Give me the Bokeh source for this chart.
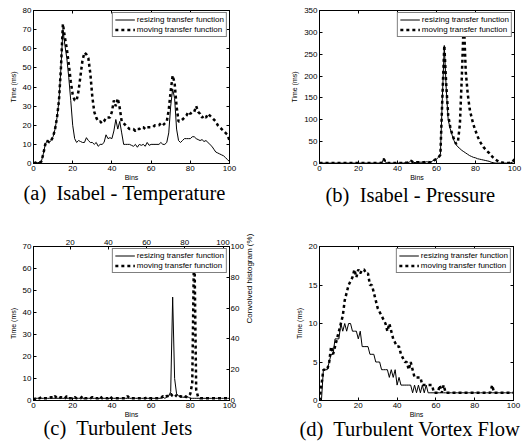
import math
from bokeh.plotting import figure
from bokeh.models import Range1d, LinearAxis, FixedTicker, Legend, LegendItem, Title
from bokeh.layouts import row, column
from bokeh.embed import file_html
from bokeh.resources import INLINE

# ---------------- data ----------------
bins = list(range(101))
x_ticks = [0, 20, 40, 60, 80, 100]

a_yticks = [0, 10, 20, 30, 40, 50, 60, 70, 80]
a_resize = [
    0, 0.5, 0.5, 0.5, 1, 5, 10, 12, 11, 12,
    14, 18, 24, 33, 50, 70, 62, 55, 45, 33,
    20, 13, 11, 12, 11.5, 11, 11, 13.5, 12, 11,
    11, 10, 11, 9, 10, 10, 11, 15, 13, 13.5,
    13, 17, 23, 18, 22, 16, 10, 10, 10, 10,
    9.5, 9, 10, 8.5, 10, 9.5, 10, 9, 11, 9.5,
    10, 10, 10, 10, 10, 11, 10, 10, 11, 16,
    30, 39, 34, 18, 12, 11, 12, 13, 13, 13,
    13, 14, 14, 13, 12.5, 12, 12.5, 11.5, 12, 11,
    10, 9, 7.5, 6, 5.5, 5, 4.5, 4, 3, 2,
    1]
a_move = [
    0, 0.5, 0.5, 0.5, 1, 5, 10, 12, 11, 12,
    14, 18, 24, 33, 50, 73, 66, 60, 52, 43,
    36, 33, 33, 38, 46, 54, 58, 57, 55, 47,
    35, 27, 24, 22, 22, 21, 22, 24, 24, 24,
    27, 33, 30, 34, 29, 22, 21, 20, 19, 18,
    18, 18, 17, 18, 18, 19, 19, 18, 19, 19,
    19, 19, 20, 20, 20, 21, 20, 21, 22, 28,
    38, 46, 42, 30, 22, 22, 23, 24, 25, 27,
    26, 27, 27, 30, 27, 26, 24, 25, 24, 26,
    25, 24, 23, 22, 20, 19, 18, 17, 16, 15,
    12]

b_yticks = [0, 50, 100, 150, 200, 250, 300, 350]
b_resize = [
    1, 1, 1, 1, 1, 1, 1, 1, 1, 1,
    1, 1, 1, 1, 1, 1, 1, 1, 1, 1,
    1, 1, 1, 1, 1, 1, 1, 1, 1, 1,
    1, 1, 2, 12, 2, 1, 1, 1, 1, 1,
    1, 1, 1, 1, 2, 2, 3, 7, 3, 2,
    3, 3, 3, 3, 3, 4, 3, 3, 6, 8,
    10, 14, 20, 150, 270, 170, 100, 80, 65, 52,
    43, 38, 34, 30, 27, 24, 21, 18, 16, 14,
    13, 11, 10, 9, 8, 7, 6, 5, 3, 2,
    1, 1, 1, 1, 1, 1, 1, 1, 2, 3,
    5]
b_move = [
    1, 1, 1, 1, 1, 1, 1, 1, 1, 1,
    1, 1, 1, 1, 1, 1, 1, 1, 1, 1,
    1, 1, 1, 1, 1, 1, 1, 1, 1, 1,
    1, 1, 2, 10, 2, 1, 1, 1, 1, 1,
    1, 1, 1, 1, 2, 2, 3, 6, 3, 2,
    3, 3, 3, 3, 3, 4, 3, 3, 6, 8,
    10, 14, 20, 150, 270, 180, 110, 85, 68, 55,
    45, 50, 90, 200, 330, 210, 160, 125, 105, 88,
    75, 63, 52, 45, 38, 33, 28, 24, 18, 14,
    10, 7, 4, 3, 2, 2, 1, 1, 2, 4,
    10]

c_yticks = [0, 10, 20, 30, 40, 50, 60, 70]
c_top_ticks = [20, 40, 60, 80, 100]
c_right_ticks = [0, 20, 40, 60, 80, 100]
c_resize = [
    0, 1, 1, 1, 1, 1, 1, 1, 1, 1,
    1, 1, 1, 1, 1, 1, 1, 1, 1, 1,
    1, 1, 1, 1, 1, 1, 1, 1, 1, 1,
    1, 1, 1, 1, 1, 1, 1, 1, 1, 1,
    1, 1, 1, 1, 1, 1, 1, 1, 1, 1,
    1, 1, 1, 1, 1, 1, 1, 1, 1, 1,
    1, 1, 1, 1, 1, 1, 1.5, 1, 1.5, 2,
    4, 47, 10, 3, 2, 1.5, 1.5, 1.5, 2, 1.5,
    1, 1, 1, 1, 1, 1, 1, 1, 1, 1,
    1, 1, 1, 1, 1, 1, 1, 1, 1, 1,
    1]
c_move = [
    0, 1, 1, 1, 1.5, 1, 1, 1, 1, 1.5,
    1, 2, 1, 1, 1.5, 1, 1, 2, 1, 1,
    1, 1.5, 1, 1, 1, 2, 1, 1, 1, 1,
    1.5, 1, 1, 1, 2, 1, 1, 1, 1, 2,
    1, 1, 1, 1, 1, 1, 1, 1, 2, 1,
    1, 1, 1, 1, 1, 1, 1, 1, 1.5, 1,
    1, 1, 1, 1, 1, 1, 2, 1.5, 2, 2,
    3, 2, 1.5, 2.5, 1.5, 2, 1.5, 2, 1.5, 2,
    3, 8, 75, 5, 1.5, 1, 1, 1, 1, 1,
    1, 1, 1, 1, 1, 1, 1, 1, 1, 1,
    1]

d_yticks = [0, 5, 10, 15, 20]
d_resize = [
    0, 0, 4, 4, 4, 5, 6, 6, 8, 8,
    8, 10, 9, 10, 9, 10, 10, 9, 9, 9,
    8, 9, 7, 7, 7, 7, 6, 6, 6, 5,
    5, 5, 4, 4, 4, 4, 3, 4, 3, 4,
    2, 3, 2, 2, 2, 2, 2, 2, 1, 2,
    1, 2, 1, 2, 1, 2, 1, 1, 1, 1,
    1, 1, 1, 1, 1, 1, 1, 1, 1, 1,
    1, 1, 1, 1, 1, 1, 1, 1, 1, 1,
    1, 1, 1, 1, 1, 1, 1, 1, 1, 1,
    1, 1, 1, 1, 1, 1, 1, 1, 1, 1,
    1]
d_move = [
    0, 2, 4, 4, 4, 5, 7, 6, 7, 8,
    9, 10, 11, 13, 14, 15, 15.5, 16, 17, 16,
    17, 16.5, 17, 17, 16.5, 16.5, 15, 15, 14, 13,
    12, 11.5, 11, 10.5, 10, 9, 10, 9, 8, 7.5,
    7, 7, 6, 5.5, 5, 5, 4, 5, 4, 3,
    3, 3, 3, 2, 2, 2, 2, 2, 2, 1,
    1, 1, 2, 1, 2, 1, 1, 1, 1, 1,
    1, 1, 1, 1, 1, 1, 1, 1, 1, 1,
    1, 1, 1, 1, 1, 1, 1, 1, 1, 2,
    1, 1, 1, 1, 1, 1, 1, 1, 1, 1,
    1]

legend_labels = ["resizing transfer function", "moving transfer function"]
captions = ["(a)\u00a0 Isabel - Temperature", "(b)\u00a0 Isabel - Pressure",
            "(c)\u00a0 Turbulent Jets", "(d)\u00a0 Turbulent Vortex Flow"]

SANS = "Liberation Sans"
SERIF = "Liberation Serif"


def style_axis(ax, ticks, show=True, size="8px"):
    ax.ticker = FixedTicker(ticks=ticks)
    ax.major_tick_in = 3
    ax.major_tick_out = 0
    ax.minor_tick_line_color = None
    ax.axis_line_color = "black"
    ax.major_tick_line_color = "black"
    ax.major_label_text_font = SANS
    ax.major_label_text_color = "black"
    if show:
        ax.major_label_text_font_size = size
        ax.major_label_standoff = 2
    else:
        ax.major_label_overrides = {t: "" for t in ticks}
        ax.major_label_text_font_size = "0px"
        ax.major_label_standoff = 0


def make_panel(fig_xy, fig_wh, frame, ymax, yticks, resize, move,
               caption, cap_left, cap_standoff, jets=False):
    fx, fy = fig_xy
    w, h = fig_wh
    L, R, T, B = frame
    p = figure(width=w, height=h, output_backend="svg", toolbar_location=None,
               x_range=Range1d(0, 100), y_range=Range1d(0, ymax),
               min_border_left=L - fx, min_border_right=fx + w - R,
               min_border_top=T - fy, min_border_bottom=fy + h - B)
    p.xgrid.visible = False
    p.ygrid.visible = False
    p.outline_line_color = "black"
    p.outline_line_width = 1
    p.background_fill_color = "white"
    p.border_fill_color = "white"

    style_axis(p.xaxis[0], x_ticks)
    style_axis(p.yaxis[0], yticks)
    p.xaxis.axis_label = "Bins"
    p.yaxis.axis_label = "Time (ms)"
    for ax in (p.xaxis[0], p.yaxis[0]):
        ax.axis_label_text_font = SANS
        ax.axis_label_text_font_size = "7px"
        ax.axis_label_text_font_style = "normal"
        ax.axis_label_text_color = "black"
    p.xaxis.axis_label_standoff = 0
    p.yaxis.axis_label_standoff = 3

    if jets:
        p.extra_x_ranges = {"top": Range1d(0.8, 103.4)}
        p.extra_y_ranges = {"hist": Range1d(0, 100)}
        top = LinearAxis(x_range_name="top")
        style_axis(top, c_top_ticks)
        right = LinearAxis(y_range_name="hist")
        style_axis(right, c_right_ticks)
        right.major_label_standoff = 1
        right.axis_label = "Convolved histogram (%)"
        right.axis_label_text_font = SANS
        right.axis_label_text_font_size = "8px"
        right.axis_label_text_font_style = "normal"
        right.axis_label_text_color = "black"
        right.axis_label_standoff = 3
        if "axis_label_orientation" in right.properties():
            right.axis_label_orientation = math.pi / 2
    else:
        top = LinearAxis()
        style_axis(top, x_ticks, show=False)
        right = LinearAxis()
        style_axis(right, yticks, show=False)
    p.add_layout(top, "above")
    p.add_layout(right, "right")

    r1 = p.line(bins, resize, line_color="black", line_width=1)
    r2 = p.line(bins, move, line_color="black", line_width=2.5,
                line_dash="3 3", line_cap="butt")

    leg = Legend(items=[LegendItem(label=legend_labels[0], renderers=[r1]),
                        LegendItem(label=legend_labels[1], renderers=[r2])],
                 location="top_right", margin=2, padding=2, spacing=1,
                 glyph_width=20, glyph_height=9, label_height=9,
                 label_standoff=2,
                 label_text_font=SANS, label_text_font_size="8px",
                 label_text_color="black",
                 border_line_color="black", border_line_width=1,
                 background_fill_color="white", background_fill_alpha=1)
    p.add_layout(leg)

    title = Title(text=caption, align="left", offset=cap_left - L,
                  text_font=SERIF, text_font_size="20.5px",
                  text_font_style="normal", text_color="black",
                  standoff=cap_standoff)
    p.add_layout(title, "below")
    return p


pa = make_panel((0, 0), (262, 222), (33, 229, 10, 163), 80, a_yticks,
                a_resize, a_move, captions[0], 23, -7)
pb = make_panel((262, 0), (261, 222), (319, 514, 10, 163), 350, b_yticks,
                b_resize, b_move, captions[1], 325, -4)
pc = make_panel((0, 222), (262, 221), (33, 229, 246, 400), 70, c_yticks,
                c_resize, c_move, captions[2], 43, -11, jets=True)
pd = make_panel((262, 222), (261, 221), (319, 513, 245, 400), 20, d_yticks,
                d_resize, d_move, captions[3], 299, -10)

layout = column(row(pa, pb), row(pc, pd))
open("out.html", "w").write(file_html(layout, INLINE))
